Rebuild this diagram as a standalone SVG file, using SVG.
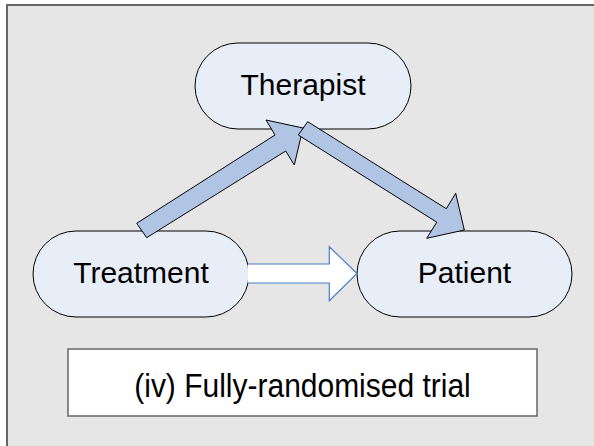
<svg xmlns="http://www.w3.org/2000/svg" width="594" height="446" viewBox="0 0 594 446">
  <style>
    .node rect { fill: #e8eef8; stroke: #000; stroke-width: 1; }
    .label { font-family: "Liberation Sans", Arial, sans-serif; font-size: 30px; fill: #000; text-anchor: middle; }
    .block { fill: #b0c4e4; stroke: #000; stroke-width: 1; stroke-linejoin: miter; }
    .hollow { fill: #ffffff; stroke: #4a7fc8; stroke-width: 1.2; }
  </style>
  <rect x="0" y="0" width="594" height="446" fill="#ffffff"/>
  <rect id="frame" x="7" y="5" width="600" height="460" fill="#e6e6e6" stroke="#666666" stroke-width="2"/>

  <g id="node-therapist" class="node">
    <rect x="195" y="43" width="216" height="86" rx="43" ry="43"/>
    <text class="label" x="303" y="95">Therapist</text>
  </g>
  <g id="node-treatment" class="node">
    <rect x="33" y="231" width="216" height="86" rx="43" ry="43"/>
    <text class="label" x="141" y="283">Treatment</text>
  </g>
  <g id="node-patient" class="node">
    <rect x="357" y="231" width="215" height="86" rx="43" ry="43"/>
    <text class="label" x="464.5" y="283">Patient</text>
  </g>

  <g id="connectors">
    <path class="hollow" d="M248,264 H329.3 V246.7 L357,273.5 L329.3,300.7 V283 H248"/>
    <polygon class="block" points="136.7,223.3 275,135 266,120 303,128 294.3,165 285.7,151 146.7,237.7"/>
    <polygon class="block" points="307.7,121.7 446.3,208.7 455.7,193.3 464.3,230 426.7,238.3 436.8,222.2 298.3,135"/>
  </g>

  <g id="caption">
    <rect x="68" y="349" width="469" height="67" fill="#ffffff" stroke="#666666" stroke-width="1.5"/>
    <text class="label" transform="translate(302.5,397) scale(1,1.1)" x="0" y="0">(iv) Fully-randomised trial</text>
  </g>
</svg>
